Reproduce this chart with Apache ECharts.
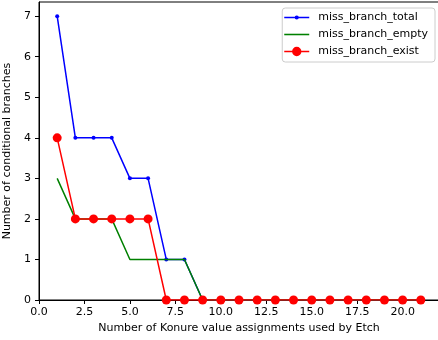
<!DOCTYPE html>
<html>
<head>
<meta charset="utf-8">
<script src="https://cdn.jsdelivr.net/npm/echarts@6/dist/echarts.min.js"></script>
<style>
  html, body { margin: 0; padding: 0; background: #fff; }
  #chart { width: 438px; height: 340px; }
</style>
</head>
<body>
<div id="chart"></div>
<script>
const assignments = [1, 2, 3, 4, 5, 6, 7, 8, 9, 10, 11, 12, 13, 14, 15, 16, 17, 18, 19, 20, 21];
const missTotal = [7, 4, 4, 4, 3, 3, 1, 1, 0, 0, 0, 0, 0, 0, 0, 0, 0, 0, 0, 0, 0];
const missEmpty = [3, 2, 2, 2, 1, 1, 1, 1, 0, 0, 0, 0, 0, 0, 0, 0, 0, 0, 0, 0, 0];
const missExist = [4, 2, 2, 2, 2, 2, 0, 0, 0, 0, 0, 0, 0, 0, 0, 0, 0, 0, 0, 0, 0];
const xTicks = [0, 2.5, 5, 7.5, 10, 12.5, 15, 17.5, 20];
const yTicks = [0, 1, 2, 3, 4, 5, 6, 7];

const FONT = 'DejaVu Sans';
const pairs = (ys) => assignments.map((x, i) => [x, ys[i]]);

// legend icons: a line with a small dot / no dot / a big dot (matplotlib style)
const LINE = 'M0,4.25 H24 V5.75 H0 Z';
const iconTotal = 'path://' + LINE + ' M10,5 A2,2 0 1,1 14,5 A2,2 0 1,1 10,5 Z';
const iconEmpty = 'path://' + LINE;
const iconExist = 'path://' + LINE + ' M7.5,5 A4.5,4.5 0 1,1 16.5,5 A4.5,4.5 0 1,1 7.5,5 Z';

const chart = echarts.init(document.getElementById('chart'), null, { renderer: 'canvas' });

chart.setOption({
  animation: false,
  textStyle: { fontFamily: FONT, color: '#000' },
  grid: {
    left: 39, right: -1, top: 2, bottom: 40,
    outerBoundsMode: 'none', containLabel: false,
    show: true, borderColor: '#000', borderWidth: 1, backgroundColor: 'transparent'
  },
  legend: {
    orient: 'vertical',
    right: 3, top: 8,
    itemWidth: 25, itemHeight: 10, itemGap: 6,
    symbolKeepAspect: true,
    padding: [4, 7, 5, 2],
    backgroundColor: '#fff',
    borderColor: '#cccccc', borderWidth: 1, borderRadius: 3,
    textStyle: { fontFamily: FONT, fontSize: 11, lineHeight: 11, color: '#000', padding: [0, 0, 0, 4] },
    data: [
      { name: 'miss_branch_total', icon: iconTotal },
      { name: 'miss_branch_empty', icon: iconEmpty },
      { name: 'miss_branch_exist', icon: iconExist }
    ]
  },
  xAxis: {
    type: 'value', min: 0, max: 22,
    name: 'Number of Konure value assignments used by Etch',
    nameLocation: 'middle', nameGap: 22,
    nameTextStyle: { fontFamily: FONT, fontSize: 11, color: '#000' },
    axisLine: { show: true, lineStyle: { color: '#000', width: 1 } },
    axisTick: { show: true, inside: false, length: 4, customValues: xTicks, lineStyle: { color: '#000' } },
    axisLabel: {
      fontFamily: FONT, fontSize: 11, color: '#000', margin: 7,
      customValues: xTicks, formatter: (v) => v.toFixed(1)
    },
    splitLine: { show: false }
  },
  yAxis: {
    type: 'value', min: 0, max: 7.35,
    name: 'Number of conditional branches',
    nameLocation: 'middle', nameGap: 21, nameRotate: 90,
    nameTextStyle: { fontFamily: FONT, fontSize: 11, color: '#000' },
    axisLine: { show: true, lineStyle: { color: '#000', width: 1 } },
    axisTick: { show: true, inside: false, length: 4, customValues: yTicks, lineStyle: { color: '#000' } },
    axisLabel: { fontFamily: FONT, fontSize: 11, color: '#000', margin: 8, customValues: yTicks },
    splitLine: { show: false }
  },
  series: [
    {
      name: 'miss_branch_total', type: 'line', data: pairs(missTotal),
      color: '#0000ff', symbol: 'circle', symbolSize: 4, showAllSymbol: true,
      lineStyle: { width: 1.5, color: '#0000ff' }, itemStyle: { color: '#0000ff' }, z: 2
    },
    {
      name: 'miss_branch_empty', type: 'line', data: pairs(missEmpty),
      color: '#008000', symbol: 'none',
      lineStyle: { width: 1.5, color: '#008000' }, itemStyle: { color: '#008000' }, z: 3
    },
    {
      name: 'miss_branch_exist', type: 'line', data: pairs(missExist),
      color: '#ff0000', symbol: 'circle', symbolSize: 9, showAllSymbol: true,
      lineStyle: { width: 1.5, color: '#ff0000' }, itemStyle: { color: '#ff0000' }, z: 4
    }
  ]
});
</script>
</body>
</html>
